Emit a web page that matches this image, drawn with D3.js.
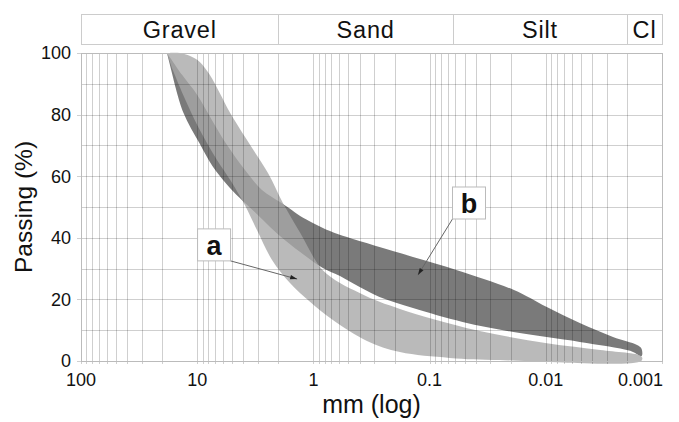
<!DOCTYPE html>
<html>
<head>
<meta charset="utf-8">
<script src="https://cdn.jsdelivr.net/npm/d3@7"></script>
<style>
  html, body { margin: 0; padding: 0; background: #fff; }
  svg { display: block; }
  text { font-family: "Liberation Sans", Arial, Helvetica, sans-serif; fill: #111; }
</style>
</head>
<body>
<svg id="chart" width="679" height="422"></svg>
<script>
// ---- data ----
const xTicks = [100, 10, 1, 0.1, 0.01, 0.001];
const xTickLabels = ["100", "10", "1", "0.1", "0.01", "0.001"];
const yTicks = [0, 20, 40, 60, 80, 100];
const yTickLabels = ["0", "20", "40", "60", "80", "100"];
const soilClasses = ["Gravel", "Sand", "Silt", "Cl"];
const classLimits = [100, 2, 0.063, 0.002, 0.001];

// grain size (mm), passing (%)
const bandAFine = [
  [18.2, 100], [14.1, 100], [11.5, 99.0], [9.5, 97.1], [7.8, 92.9], [6.4, 87.0],
  [5.2, 80.5], [3.5, 70.1], [2.46, 61.0], [1.83, 51.3], [1.30, 41.6], [1.0, 33.8],
  [0.83, 29.5], [0.59, 25.3], [0.40, 22.1], [0.27, 19.2], [0.18, 16.9],
  [0.094, 13.6], [0.037, 9.7], [0.0098, 5.8], [0.0034, 3.6], [0.0015, 1.5]
];
const bandACoarse = [
  [18.2, 100], [16.5, 95.1], [13.2, 86.4], [9.5, 75.0], [6.76, 65.3], [5.2, 58.8],
  [3.88, 50.6], [3.06, 42.5], [2.27, 32.8], [1.59, 25.3], [1.07, 19.2], [0.68, 13.3],
  [0.346, 6.5], [0.18, 2.9], [0.067, 1.0], [0.025, 0.3], [0.0015, 0.1]
];
const bandBFine = [
  [18.2, 100], [13.5, 92.9], [10.0, 86.4], [7.46, 78.2], [5.54, 70.1], [3.88, 62.0],
  [2.77, 55.5], [1.94, 51.6], [1.59, 49.4], [1.30, 47.1], [0.72, 42.2], [0.374, 38.6],
  [0.27, 37.0], [0.139, 33.8], [0.058, 29.5], [0.019, 23.1], [0.0098, 17.5],
  [0.0051, 12.3], [0.00264, 7.8], [0.00164, 5.2], [0.0015, 4.0]
];
const bandBCoarse = [
  [18.2, 100], [16.1, 91.9], [13.2, 80.8], [9.5, 70.5], [7.4, 63.3], [5.6, 57.5],
  [4.3, 52.9], [3.2, 48.4], [1.94, 40.6], [1.30, 35.4], [0.83, 30.2], [0.59, 27.6],
  [0.40, 24.0], [0.27, 20.8], [0.139, 17.2], [0.052, 12.7], [0.019, 9.4],
  [0.0051, 6.2], [0.00188, 3.3], [0.0015, 1.6]
];
const bandNames = ["a", "b"];
// label box centre and arrow target (mm, %)
const labelAnchors = [[7.16, 37.7], [0.0458, 51.3]];
const labelTargets = [[1.38, 26.6], [0.126, 27.9]];

// ---- layout ----
const svg = d3.select("#chart");
const pL = 81, pR = 662, pT = 53, pB = 361;
const x = d3.scaleLog().domain([100, 0.001]).range([pL, pR]);
const y = d3.scaleLinear().domain([0, 100]).range([pB, pT]);

// bands
const line = d3.line().x(d => x(d[0])).y(d => y(d[1])).curve(d3.curveCatmullRom.alpha(0.5));
function bandPath(fine, coarse) {
  const pts = fine.concat(coarse.slice(1).reverse());
  return line(pts) + "Z";
}
svg.append("path").attr("d", bandPath(bandBFine, bandBCoarse))
  .attr("fill", "#7a7a7a");
svg.append("path").attr("d", bandPath(bandAFine, bandACoarse))
  .attr("fill", "#a7a7a7").attr("fill-opacity", 0.79);

// grid
const minor = [];
for (let e = -3; e < 2; e++) for (let k = 1; k <= 9; k++) minor.push(k * Math.pow(10, e));
minor.push(100);
const g = svg.append("g").attr("stroke", "#000").attr("stroke-opacity", 0.19).attr("stroke-width", 1);
g.selectAll("line.v").data(minor).join("line")
  .attr("x1", d => Math.round(x(d)) + 0.5).attr("x2", d => Math.round(x(d)) + 0.5)
  .attr("y1", pT).attr("y2", pB + 3);
g.selectAll("line.h").data(d3.range(0, 101, 10)).join("line")
  .attr("x1", d => d % 20 === 0 ? pL - 4 : pL).attr("x2", pR)
  .attr("y1", d => Math.round(y(d)) + 0.5).attr("y2", d => Math.round(y(d)) + 0.5);
svg.append("rect").attr("x", pL + 0.5).attr("y", pT + 0.5)
  .attr("width", pR - pL).attr("height", pB - pT)
  .attr("fill", "none").attr("stroke", "#bbb");

// soil class header
const hdr = svg.append("g");
soilClasses.forEach((c, i) => {
  const x0 = x(classLimits[i]), x1 = x(classLimits[i + 1]);
  hdr.append("rect").attr("x", Math.round(x0) + 0.5).attr("y", 14.5)
    .attr("width", Math.round(x1) - Math.round(x0)).attr("height", 30)
    .attr("fill", "#fff").attr("stroke", "#ccc");
  hdr.append("text").attr("x", (x0 + x1) / 2).attr("y", 37.5)
    .attr("text-anchor", "middle").attr("font-size", 23.5).attr("letter-spacing", 0.8)
    .text(c);
});

// axes labels
svg.append("g").selectAll("text").data(xTicks).join("text")
  .attr("x", (d, i) => i === xTicks.length - 1 ? x(d) + 1 : x(d))
  .attr("y", 386)
  .attr("text-anchor", (d, i) => i === xTicks.length - 1 ? "end" : "middle")
  .attr("font-size", 18)
  .text((d, i) => xTickLabels[i]);
svg.append("g").selectAll("text").data(yTicks).join("text")
  .attr("x", 71).attr("y", d => y(d)).attr("dy", "0.35em")
  .attr("text-anchor", "end").attr("font-size", 18)
  .text((d, i) => yTickLabels[i]);

svg.append("text").attr("x", (pL + pR) / 2).attr("y", 413)
  .attr("text-anchor", "middle").attr("font-size", 25).text("mm (log)");
svg.append("text").attr("transform", `translate(32,${(pT + pB) / 2}) rotate(-90)`)
  .attr("text-anchor", "middle").attr("font-size", 24.5).text("Passing (%)");

// band labels with leaders
const bw = 33, bh = 32;
bandNames.forEach((n, i) => {
  const cx = x(labelAnchors[i][0]), cy = y(labelAnchors[i][1]);
  const tx = x(labelTargets[i][0]), ty = y(labelTargets[i][1]);
  const sx = i === 0 ? cx + bw / 2 : cx - bw / 2;
  const sy = cy + bh / 2;
  svg.append("line").attr("x1", sx).attr("y1", sy).attr("x2", tx).attr("y2", ty)
    .attr("stroke", "#666").attr("stroke-width", 1);
  const ang = Math.atan2(ty - sy, tx - sx);
  const L = 7, W = 2.2;
  const p = [[tx, ty],
    [tx - L * Math.cos(ang) + W * Math.sin(ang), ty - L * Math.sin(ang) - W * Math.cos(ang)],
    [tx - L * Math.cos(ang) - W * Math.sin(ang), ty - L * Math.sin(ang) + W * Math.cos(ang)]];
  svg.append("path").attr("d", "M" + p.join("L") + "Z").attr("fill", "#222");
  svg.append("rect").attr("x", cx - bw / 2).attr("y", cy - bh / 2)
    .attr("width", bw).attr("height", bh).attr("fill", "#fff").attr("stroke", "#bbb");
  svg.append("text").attr("x", cx).attr("y", cy).attr("dy", "0.36em")
    .attr("text-anchor", "middle").attr("font-size", 27).attr("font-weight", "bold")
    .text(n);
});
</script>
</body>
</html>
